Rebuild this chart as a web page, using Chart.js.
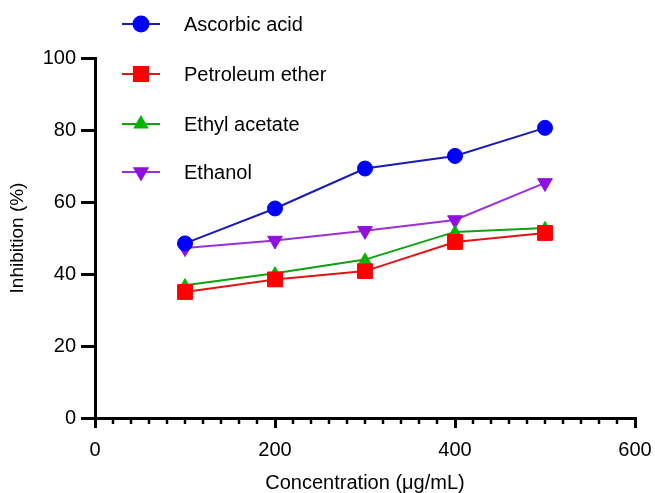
<!DOCTYPE html>
<html>
<head>
<meta charset="utf-8">
<script src="https://cdn.jsdelivr.net/npm/chart.js@4"></script>
<style>
  html, body { margin: 0; padding: 0; background: #fff; }
  #wrap { width: 655px; height: 493px; }
</style>
</head>
<body>
<div id="wrap"><canvas id="myChart" width="655" height="493"></canvas></div>
<script>
// DATA
const concentrations = [100, 200, 300, 400, 500];
const seriesNames = ["Ascorbic acid", "Petroleum ether", "Ethyl acetate", "Ethanol"];
const ascorbicAcid = [48.5, 58.2, 69.3, 72.8, 80.6];
const petroleumEther = [35.0, 38.5, 40.8, 48.9, 51.4];
const ethylAcetate = [36.9, 40.2, 44.0, 51.7, 52.8];
const ethanol = [47.2, 49.3, 52.0, 55.0, 65.3];
const xTicks = [0, 200, 400, 600];
const yTicks = [0, 20, 40, 60, 80, 100];

const FONT = "'Liberation Sans', Arial, Helvetica, sans-serif";

function toPoints(vals) {
  return vals.map((v, i) => ({ x: concentrations[i], y: v }));
}

// legend drawn at top-left, line + marker + label
const legendPlugin = {
  id: "sideLegend",
  afterDraw(chart) {
    const ctx = chart.ctx;
    const rows = [24, 74, 124, 172];
    ctx.save();
    chart.data.datasets.forEach((ds, i) => {
      const y = rows[i];
      ctx.strokeStyle = ds.borderColor;
      ctx.lineWidth = 2;
      ctx.beginPath();
      ctx.moveTo(122, y);
      ctx.lineTo(160, y);
      ctx.stroke();
      ctx.fillStyle = ds.pointBackgroundColor;
      ctx.strokeStyle = ds.pointBackgroundColor;
      Chart.helpers.drawPoint(ctx, {
        pointStyle: ds.pointStyle,
        rotation: ds.pointRotation || 0,
        radius: ds.legendRadius,
        borderWidth: 1
      }, 141, y);
      ctx.fillStyle = "#000";
      ctx.font = "20px " + FONT;
      ctx.textBaseline = "middle";
      ctx.fillText(ds.label, 184, y + 1);
    });
    ctx.restore();
  }
};

// small minor ticks on the x axis every 20
const minorTicks = {
  id: "minorTicks",
  afterDraw(chart) {
    const xs = chart.scales.x;
    const ctx = chart.ctx;
    const y0 = chart.chartArea.bottom;
    ctx.save();
    ctx.strokeStyle = "#000";
    ctx.lineWidth = 2.5;
    for (let v = 20; v < 600; v += 20) {
      if (v % 200 === 0) continue;
      const px = Math.round(xs.getPixelForValue(v));
      ctx.beginPath();
      ctx.moveTo(px, y0);
      ctx.lineTo(px, y0 + 6);
      ctx.stroke();
    }
    ctx.restore();
  }
};

const ctx = document.getElementById("myChart");

new Chart(ctx, {
  type: "line",
  data: {
    datasets: [
      {
        label: seriesNames[0],
        data: toPoints(ascorbicAcid),
        borderColor: "#1a1ab4",
        pointBackgroundColor: "#0000ff",
        pointBorderColor: "#0000ff",
        pointStyle: "circle",
        pointRadius: 7.5,
        legendRadius: 7.5
      },
      {
        label: seriesNames[1],
        data: toPoints(petroleumEther),
        borderColor: "#e01414",
        pointBackgroundColor: "#ff0000",
        pointBorderColor: "#ff0000",
        pointStyle: "rect",
        pointRadius: 10.5,
        legendRadius: 10
      },
      {
        label: seriesNames[2],
        data: toPoints(ethylAcetate),
        borderColor: "#10a010",
        pointBackgroundColor: "#00b400",
        pointBorderColor: "#00b400",
        pointStyle: "triangle",
        pointRadius: 6.5,
        legendRadius: 7
      },
      {
        label: seriesNames[3],
        data: toPoints(ethanol),
        borderColor: "#9b30d8",
        pointBackgroundColor: "#9010e0",
        pointBorderColor: "#9010e0",
        pointStyle: "triangle",
        pointRotation: 180,
        pointRadius: 8.5,
        legendRadius: 7.5
      }
    ]
  },
  options: {
    responsive: false,
    animation: false,
    layout: { padding: { top: 58, right: 20, left: 0, bottom: 0 } },
    elements: {
      line: { borderWidth: 2, tension: 0 },
      point: { borderWidth: 1, hoverRadius: 8 }
    },
    plugins: {
      legend: { display: false },
      tooltip: { enabled: false }
    },
    scales: {
      x: {
        type: "linear",
        min: 0,
        max: 600,
        afterBuildTicks: (s) => { s.ticks = xTicks.map((v) => ({ value: v })); },
        afterFit: (s) => {
          s.height = 75;
          s.paddingLeft = 0;
          s.paddingRight = 0;
        },
        border: { display: true, color: "#000", width: 3 },
        grid: {
          display: true,
          drawOnChartArea: false,
          drawTicks: true,
          tickLength: 10,
          tickWidth: 3,
          lineWidth: 3,
          tickColor: "#000",
          color: "#000"
        },
        ticks: {
          color: "#000",
          padding: 10,
          maxRotation: 0,
          font: { family: FONT, size: 20 }
        },
        title: {
          display: true,
          text: "Concentration (μg/mL)",
          color: "#000",
          padding: { top: 0, bottom: 0 },
          font: { family: FONT, size: 20, lineHeight: 1.0 }
        }
      },
      y: {
        min: 0,
        max: 100,
        afterBuildTicks: (s) => { s.ticks = yTicks.map((v) => ({ value: v })); },
        afterFit: (s) => { s.width = 95; },
        border: { display: true, color: "#000", width: 3 },
        grid: {
          display: true,
          drawOnChartArea: false,
          drawTicks: true,
          tickLength: 14,
          tickWidth: 3,
          lineWidth: 3,
          tickColor: "#000",
          color: "#000"
        },
        ticks: {
          color: "#000",
          padding: 5,
          font: { family: FONT, size: 20 }
        },
        title: {
          display: true,
          text: "Inhibition (%)",
          color: "#000",
          padding: { top: 6, bottom: 0 },
          font: { family: FONT, size: 19 }
        }
      }
    }
  },
  plugins: [legendPlugin, minorTicks]
});
</script>
</body>
</html>
